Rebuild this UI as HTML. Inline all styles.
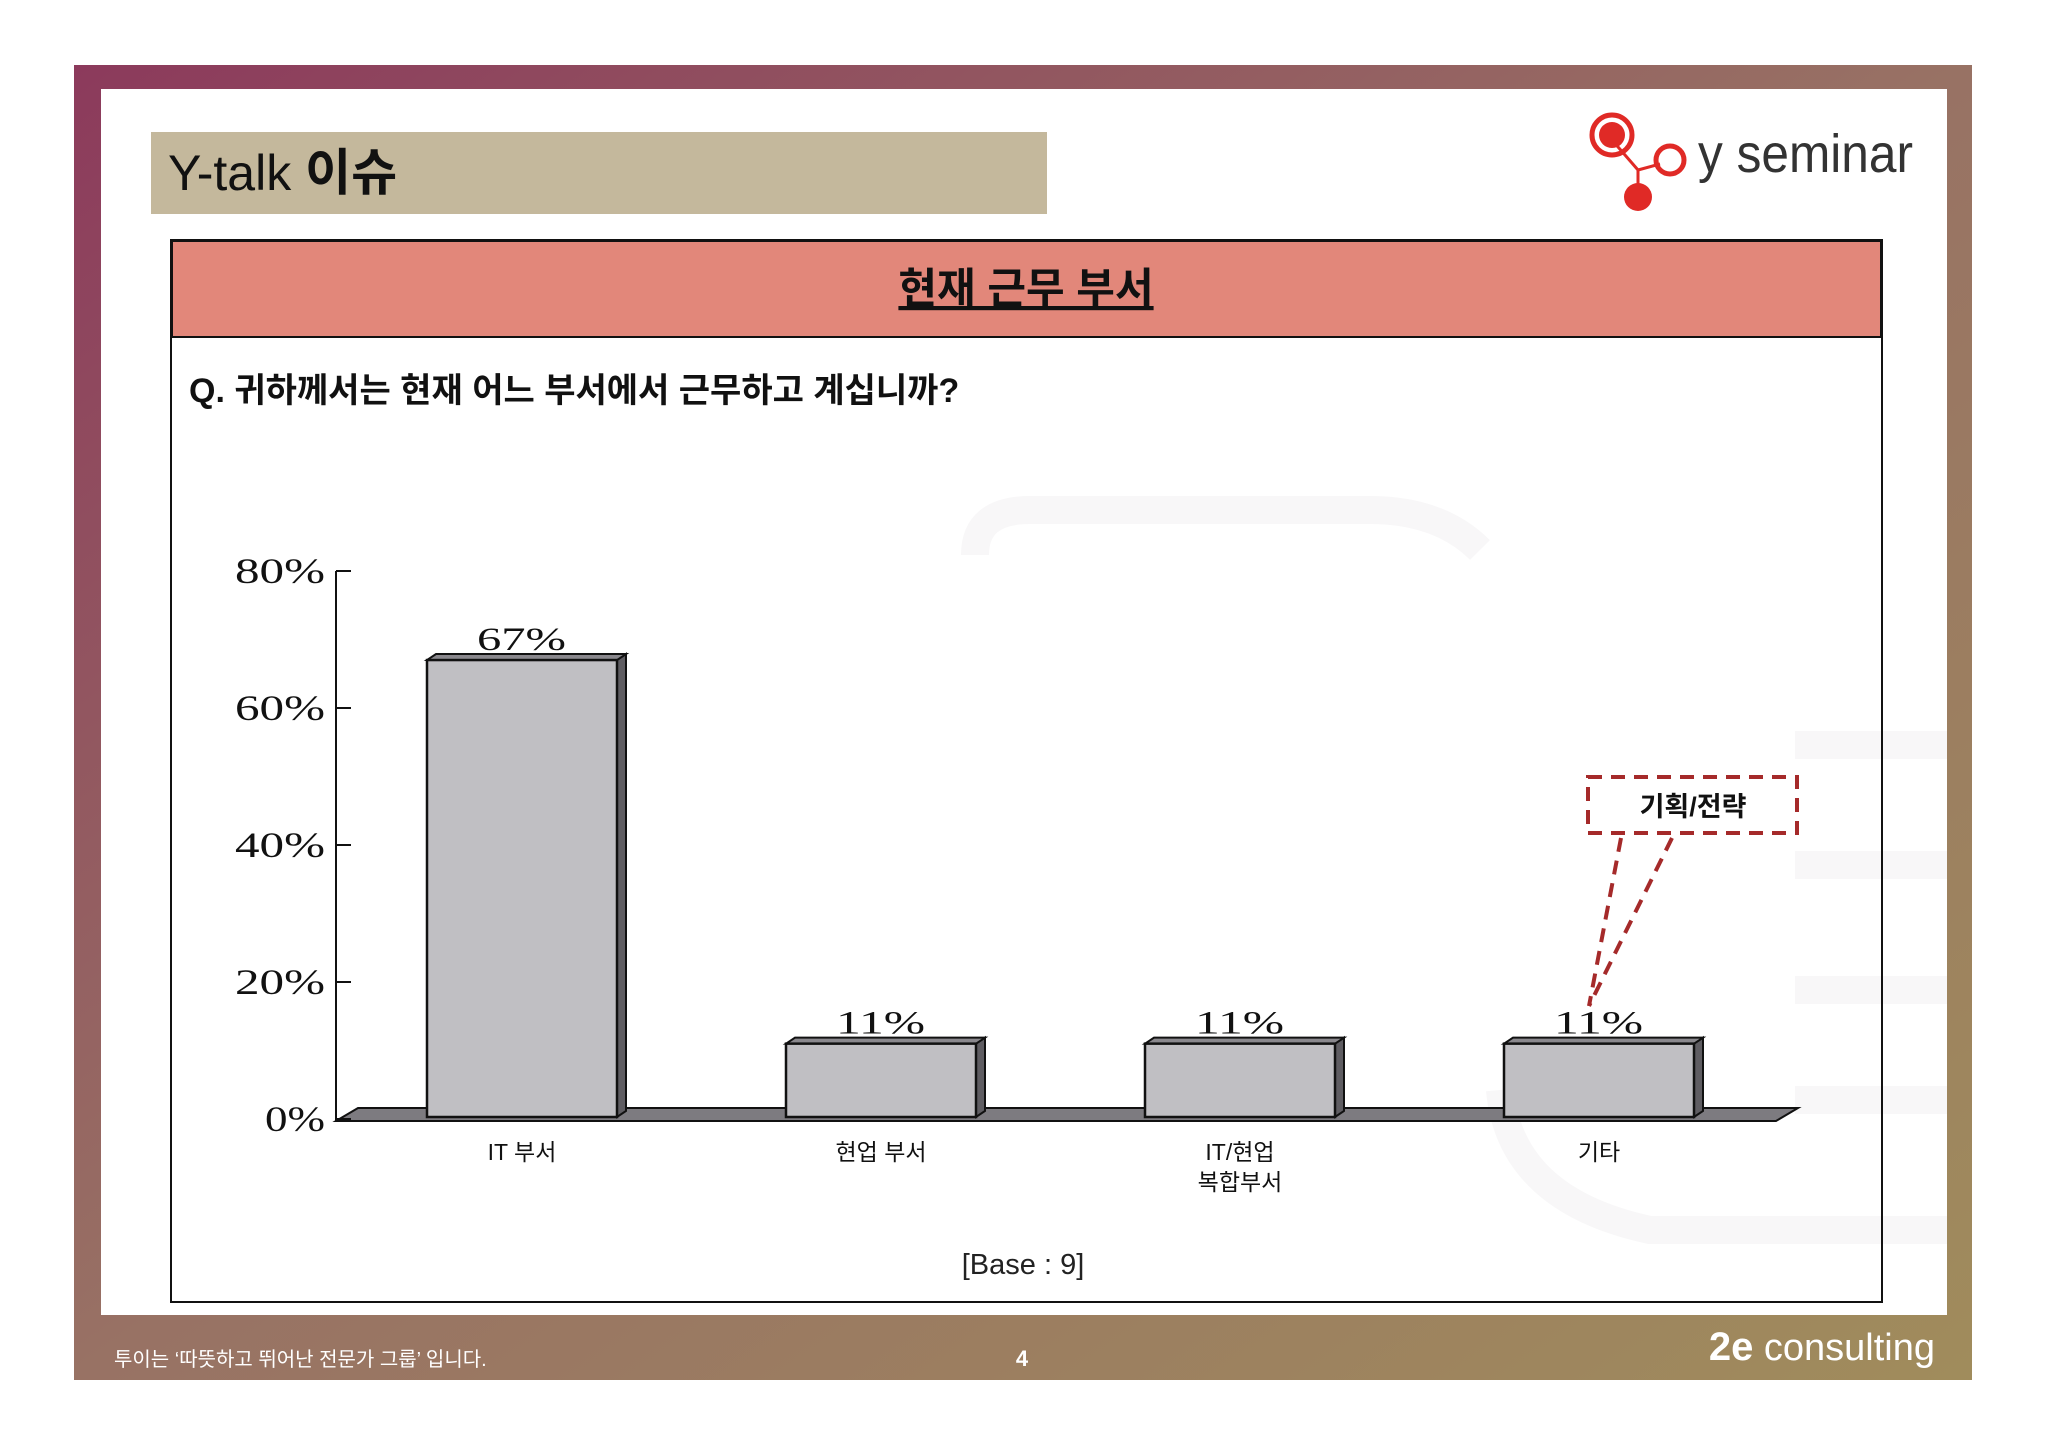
<!DOCTYPE html>
<html><head><meta charset="utf-8"><style>
body{margin:0;width:2048px;height:1447px;background:#fff;overflow:hidden;font-family:"Liberation Sans","Noto Sans CJK KR",sans-serif}
</style></head><body>
<svg width="2048" height="1447" viewBox="0 0 2048 1447" xmlns="http://www.w3.org/2000/svg">
<defs>
<linearGradient id="fr" x1="0" y1="0" x2="1" y2="1">
<stop offset="0" stop-color="#8c3a5c"/><stop offset="0.5" stop-color="#987264"/><stop offset="1" stop-color="#a08c5c"/>
</linearGradient>
</defs>
<rect x="74" y="65" width="1898" height="1315" fill="url(#fr)"/>
<rect x="101" y="89" width="1846" height="1226" fill="#fff"/>
<g fill="none" stroke="#f8f7f8" stroke-width="28">
<path d="M975 555 Q975 510 1030 510 L1370 510 Q1440 510 1480 550"/>
<path d="M1795 745 L1947 745 M1795 865 L1947 865 M1795 990 L1947 990 M1795 1100 L1947 1100"/>
<path d="M1500 1090 Q1510 1200 1650 1230 L1947 1230"/>
</g>
<rect x="151" y="132" width="896" height="82" fill="#c4b89c"/>
<text x="168" y="190" font-size="50" fill="#111">Y-talk <tspan font-weight="bold">이슈</tspan></text>
<g>
<line x1="1612" y1="140" x2="1638" y2="170" stroke="#e02a26" stroke-width="3"/>
<line x1="1638" y1="170" x2="1660" y2="164" stroke="#e02a26" stroke-width="3"/>
<line x1="1638" y1="170" x2="1638" y2="195" stroke="#e02a26" stroke-width="3"/>
<circle cx="1612" cy="135" r="20" fill="none" stroke="#e02a26" stroke-width="5"/>
<circle cx="1612" cy="135" r="13" fill="#e02a26"/>
<circle cx="1670" cy="160" r="14" fill="none" stroke="#e02a26" stroke-width="5"/>
<circle cx="1638" cy="197" r="14" fill="#e02a26"/>
<text x="1698" y="172" font-size="54" fill="#333" textLength="215" lengthAdjust="spacingAndGlyphs">y seminar</text>
</g>
<rect x="171" y="240" width="1711" height="1062" fill="none" stroke="#111" stroke-width="2"/>
<rect x="172" y="241" width="1709" height="96" fill="#e2877a" stroke="#111" stroke-width="2"/>
<text x="1026" y="303" font-size="42" font-weight="bold" text-anchor="middle" text-decoration="underline" fill="#111">현재 근무 부서</text>
<text x="189" y="402" font-size="34" font-weight="bold" fill="#111">Q. 귀하께서는 현재 어느 부서에서 근무하고 계십니까?</text>
<g id="chart"></g>
<text x="1023" y="1274" font-size="29" text-anchor="middle" fill="#222">[Base : 9]</text>
<g stroke="#a52a2a" stroke-width="4" stroke-dasharray="14,9" fill="none">
<rect x="1588" y="777" width="209" height="56" fill="#fff"/>
<line x1="1621" y1="838" x2="1589" y2="1006"/>
<line x1="1672" y1="838" x2="1589" y2="1006"/>
</g>
<text x="1693" y="816" font-size="27" font-weight="bold" text-anchor="middle" fill="#111">기획/전략</text>
<text x="114" y="1366" font-size="20" fill="#fff">투이는 ‘따뜻하고 뛰어난 전문가 그룹’ 입니다.</text>
<text x="1022" y="1366" font-size="22" font-weight="bold" text-anchor="middle" fill="#fff">4</text>
<text x="1935" y="1360" font-size="38" text-anchor="end" fill="#fff"><tspan font-weight="bold" font-size="40">2e</tspan> consulting</text>
</svg>
<script>
const categories = [["IT 부서"], ["현업 부서"], ["IT/현업", "복합부서"], ["기타"]];
const values = [67, 11, 11, 11];
const valueLabels = ["67%", "11%", "11%", "11%"];
const yTicks = [0, 20, 40, 60, 80];
const yTickLabels = ["0%", "20%", "40%", "60%", "80%"];

const NS = "http://www.w3.org/2000/svg";
const g = document.getElementById('chart');
const axX = 336, y0 = 1119, y80 = 571;
const y = v => y0 - (v / 80) * (y0 - y80);
const barLeft = i => 427 + i * 359;
const barW = 190, dx = 9, dy = 6;
function mk(tag, attrs, parent) {
  const e = document.createElementNS(NS, tag);
  for (const k in attrs) e.setAttribute(k, attrs[k]);
  (parent || g).appendChild(e);
  return e;
}
const floor = mk('polygon', {points: `${axX},1121 ${axX+22},1108 1798,1108 1776,1121`, fill: '#7d7b80', stroke: '#111', 'stroke-width': 2});


const ax = mk('line', {x1: axX, y1: y80, x2: axX, y2: 1121, stroke: '#111', 'stroke-width': 2});


yTicks.forEach((t, i) => {
  const tk = mk('line', {x1: axX, y1: y(t), x2: axX + 15, y2: y(t), stroke: '#111', 'stroke-width': 2});
  
  
  const lbl = yTickLabels[i];
  const tl = mk('text', {x: 325, y: y(t) + 12, 'font-size': 36, 'text-anchor': 'end', 'font-family': '"Liberation Serif",serif', fill: '#111', textLength: lbl.length * 30, lengthAdjust: 'spacingAndGlyphs'});
  tl.textContent = lbl;
  
  
});
values.forEach((v, i) => {
  const x = barLeft(i), top = y(v), bot = 1117;
  const bg = mk('g', {});
  
  
  mk('polygon', {points: `${x+barW},${top} ${x+barW+dx},${top-dy} ${x+barW+dx},${bot-dy} ${x+barW},${bot}`, fill: '#5f5d62', stroke: '#111', 'stroke-width': 2}, bg);
  mk('polygon', {points: `${x},${top} ${x+dx},${top-dy} ${x+barW+dx},${top-dy} ${x+barW},${top}`, fill: '#8a888d', stroke: '#111', 'stroke-width': 2}, bg);
  mk('rect', {x: x, y: top, width: barW, height: bot - top, fill: '#c0bfc3', stroke: '#111', 'stroke-width': 2.5}, bg);
  const vl = mk('text', {x: x + barW / 2 - 45, y: top - 10, 'font-size': 33, 'font-family': '"Liberation Serif",serif', fill: '#111', textLength: 89, lengthAdjust: 'spacingAndGlyphs'});
  vl.textContent = valueLabels[i];
  
  
  categories[i].forEach((line, j) => {
    const cl = mk('text', {x: x + barW / 2, y: 1160 + j * 30, 'font-size': 23, 'text-anchor': 'middle', fill: '#111'});
    cl.textContent = line;
    
    
  });
});
</script>
</body></html>
